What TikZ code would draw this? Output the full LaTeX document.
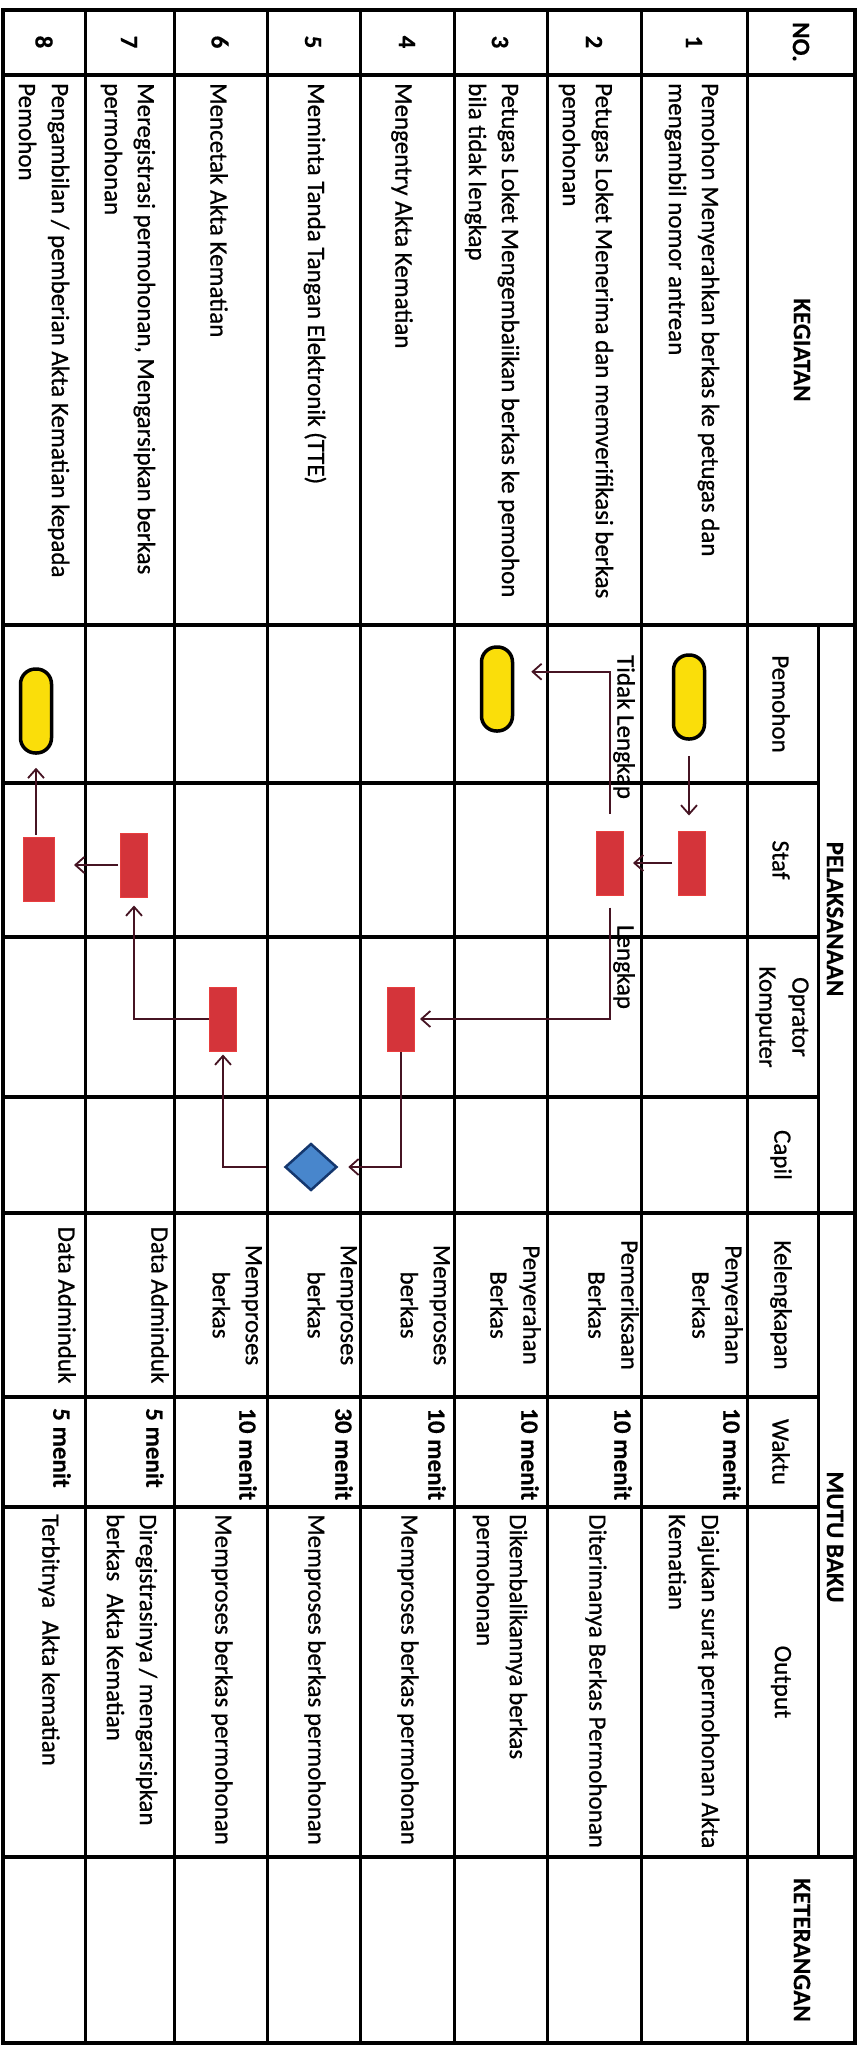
\documentclass[tikz,border=0pt]{standalone}
\usepackage{fontspec}
\setmainfont{Carlito}[UprightFeatures={FakeBold=0.6},BoldFeatures={FakeBold=0.3}]
\usetikzlibrary{shapes.geometric,arrows.meta}
\definecolor{pillY}{RGB}{250,222,10}
\definecolor{boxR}{RGB}{212,52,58}
\definecolor{boxRB}{RGB}{232,62,62}
\definecolor{dmB}{RGB}{72,134,204}
\definecolor{dmD}{RGB}{20,55,110}
\definecolor{conC}{RGB}{70,20,35}
\tikzset{
  txt/.style={rotate=-90, inner sep=0pt, font=\fontsize{25}{33}\selectfont},
  hdr/.style={rotate=-90, inner sep=0pt, font=\fontsize{25}{33}\selectfont\bfseries},
  pill/.style={draw=black, line width=3.5pt, fill=pillY, rounded corners=15pt, minimum width=31pt, minimum height=84pt, inner sep=0pt},
  box/.style={draw=boxRB, line width=1pt, fill=boxR, minimum width=27pt, minimum height=64pt, inner sep=0pt},
  dmd/.style={diamond, draw=dmD, line width=2.5pt, fill=dmB, minimum width=52pt, minimum height=47pt, inner sep=0pt},
  conn/.style={draw=conC, line width=1.8pt, -{Straight Barb[length=9pt,width=16pt]}},
  hline/.style={line width=4pt},
  vline/.style={line width=3pt}
}
\begin{document}
\begin{tikzpicture}[x=1pt,y=-1pt]
\useasboundingbox (0,0) rectangle (858,2047);
\fill[white] (0,0) rectangle (858,2047);
% grid: full-width horizontal lines
\foreach \yy in {75,625,1213,1857}{\draw[hline] (3,\yy) -- (855,\yy);}
% sub-column lines
\foreach \yy in {783,937,1097,1397,1507}{\draw[hline] (3,\yy) -- (818,\yy);}
% vertical lines (rows)
\foreach \xx in {85,174,267,360,454,547,641,747}{\draw[vline] (\xx,10) -- (\xx,2043);}
\draw[vline] (818,625) -- (818,1857);
\draw[line width=3.5pt] (3,10) rectangle (855,2043);
% headers
\node[hdr] (hNo) at (801,42) {NO.};
\node[hdr] (hKeg) at (802,350) {KEGIATAN};
\node[hdr] (hPel) at (835,919) {PELAKSANAAN};
\node[hdr] (hMut) at (835,1537) {MUTU BAKU};
\node[hdr] (hKet) at (802,1950) {KETERANGAN};
\node[txt] (hPem) at (781,704) {Pemohon};
\node[txt] (hSta) at (781,860) {Staf};
\node[txt, align=center] (hOpr) at (782,1017) {Oprator\\Komputer};
\node[txt] (hCap) at (781,1155) {Capil};
\node[txt] (hKel) at (781,1305) {Kelengkapan};
\node[txt] (hWak) at (781,1452) {Waktu};
\node[txt] (hOut) at (781,1682) {Output};
% numbers
\node[hdr] (n1) at (694,42) {1};
\node[hdr] (n2) at (594,42) {2};
\node[hdr] (n3) at (500,42) {3};
\node[hdr] (n4) at (407,42) {4};
\node[hdr] (n5) at (313,42) {5};
\node[hdr] (n6) at (220,42) {6};
\node[hdr] (n7) at (129,42) {7};
\node[hdr] (n8) at (44,42) {8};
% kegiatan
\node[txt, anchor=west, align=left] (k1) at (692,83) {Pemohon Menyerahkan berkas ke petugas dan\\mengambil nomor antrean};
\node[txt, anchor=west, align=left] (k2) at (586,83) {Petugas Loket Menerima dan memverifikasi berkas\\pemohonan};
\node[txt, anchor=west, align=left] (k3) at (492,83) {Petugas Loket Mengembaiikan berkas ke pemohon\\bila tidak lengkap};
\node[txt, anchor=west, align=left] (k4) at (402,83) {Mengentry Akta Kematian};
\node[txt, anchor=west, align=left] (k5) at (315,83) {Meminta Tanda Tangan Elektronik (TTE)};
\node[txt, anchor=west, align=left] (k6) at (219,83) {Mencetak Akta Kematian};
\node[txt, anchor=west, align=left] (k7) at (128,83) {Meregistrasi permohonan, Mengarsipkan berkas\\permohonan};
\node[txt, anchor=west, align=left] (k8) at (44,83) {Pengambilan / pemberian Akta Kematian kepada\\Pemohon};
% kelengkapan
\node[txt, anchor=north, align=center] (l1) at (743,1305) {Penyerahan\\Berkas};
\node[txt, anchor=north, align=center] (l2) at (639,1305) {Pemeriksaan\\Berkas};
\node[txt, anchor=north, align=center] (l3) at (541,1305) {Penyerahan\\Berkas};
\node[txt, anchor=north, align=center] (l4) at (450,1305) {Memproses\\berkas};
\node[txt, anchor=north, align=center] (l5) at (357,1305) {Memproses\\berkas};
\node[txt, anchor=north, align=center] (l6) at (262,1305) {Memproses\\berkas};
\node[txt, anchor=north, align=center] (l7) at (169,1305) {Data Adminduk};
\node[txt, anchor=north, align=center] (l8) at (76,1305) {Data Adminduk};
% waktu
\node[hdr, anchor=north west] (w1) at (741,1408) {10 menit};
\node[hdr, anchor=north west] (w2) at (632,1408) {10 menit};
\node[hdr, anchor=north west] (w3) at (539,1408) {10 menit};
\node[hdr, anchor=north west] (w4) at (446,1408) {10 menit};
\node[hdr, anchor=north west] (w5) at (353,1408) {30 menit};
\node[hdr, anchor=north west] (w6) at (257,1408) {10 menit};
\node[hdr, anchor=north west] (w7) at (164,1408) {5 menit};
\node[hdr, anchor=north west] (w8) at (71,1408) {5 menit};
% output
\node[txt, anchor=west, align=left] (o1t) at (694,1514) {Diajukan surat permohonan Akta\\Kematian};
\node[txt, anchor=west, align=left] (o2t) at (596,1514) {Diterimanya Berkas Permohonan};
\node[txt, anchor=west, align=left] (o3t) at (500,1514) {Dikembalikannya berkas\\permohonan};
\node[txt, anchor=west, align=left] (o4t) at (408,1514) {Memproses berkas permohonan};
\node[txt, anchor=west, align=left] (o5t) at (315,1514) {Memproses berkas permohonan};
\node[txt, anchor=west, align=left] (o6t) at (222,1514) {Memproses berkas permohonan};
\node[txt, anchor=west, align=left] (o7t) at (132,1514) {Diregistrasinya / mengarsipkan\\berkas\hspace{0.5em}Akta Kematian};
\node[txt, anchor=west, align=left] (o8t) at (49,1514) {Terbitnya\hspace{0.5em}Akta kematian};
% shapes
\node[pill] (p1) at (689,697) {};
\node[pill] (p3) at (497,689) {};
\node[pill] (p8) at (36,711) {};
\node[box] (s1) at (692,863) {};
\node[box] (s2) at (610,863) {};
\node[box] (s7) at (134,865) {};
\node[box, minimum width=31pt] (s8) at (39,869) {};
\node[box] (o4) at (401,1019) {};
\node[box] (o6) at (223,1019) {};
\node[dmd] (c5) at (311,1167) {};
% connectors
\draw[conn, shorten <=15pt, shorten >=15pt] (p1.south) -- (p1.south |- s1.north);
\draw[conn, shorten <=6pt, shorten >=9pt] (s1.west) -- (s2.east);
\draw[conn, shorten <=17pt, shorten >=17pt] (s2.north) |- (p3.45);
\node[txt] (lT) at (624,727) {Tidak Lengkap};
\draw[conn, shorten <=12pt, shorten >=5pt] (s2.south) |- (o4.east);
\node[txt] (lL) at (624,967) {Lengkap};
\draw[conn, shorten >=10pt] (o4.south) |- (c5.east);
\draw[conn, shorten <=18pt, shorten >=3pt] (c5.west) -| (o6.south);
\draw[conn, shorten >=8pt] (o6.west) -| (s7.south);
\draw[conn, shorten <=2pt, shorten >=19pt] (s7.west) -- (s7.west -| s8.east);
\draw[conn, shorten <=2pt, shorten >=13pt] (s8.north -| p8.south) -- (p8.south);
\end{tikzpicture}
\end{document}
